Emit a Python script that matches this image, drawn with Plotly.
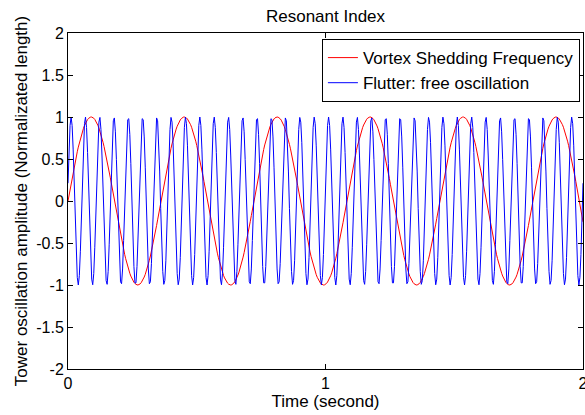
import numpy as np
import plotly.graph_objects as go

# Values
title_text = "Resonant Index"
x_label = "Time (second)"
y_label = "Tower oscillation amplitude (Normalizated length)"
series_names = ["Vortex Shedding Frequency", "Flutter: free oscillation"]
series_colors = ["#ff0000", "#0000ff"]

t_start, t_end, t_step = 0.0, 2.0, 0.004
vortex_freq_hz = 2.77      # red: ~5.5 cycles over 2 s
vortex_amp = 1.0
flutter_freq_hz = 18.0     # blue: ~36 cycles over 2 s
flutter_amp = 1.0
flutter_first_peak = 0.012

x_ticks = [0, 1, 2]
y_ticks = [-2, -1.5, -1, -0.5, 0, 0.5, 1, 1.5, 2]
y_tick_text = ["-2", "-1.5", "-1", "-0.5", "0", "0.5", "1", "1.5", "2"]

t = np.arange(t_start, t_end + t_step / 2, t_step)
vortex = vortex_amp * np.sin(2 * np.pi * vortex_freq_hz * t)
flutter = flutter_amp * np.cos(2 * np.pi * flutter_freq_hz * (t - flutter_first_peak))

font_family = "Liberation Sans, Arial, Helvetica, sans-serif"
label_font = dict(family=font_family, size=17, color="black")
tick_font = dict(family=font_family, size=16, color="black")

fig = go.Figure()
fig.add_trace(go.Scatter(x=t, y=vortex, mode="lines", name=series_names[0],
                         line=dict(color=series_colors[0], width=1)))
fig.add_trace(go.Scatter(x=t, y=flutter, mode="lines", name=series_names[1],
                         line=dict(color=series_colors[1], width=1)))

axis_common = dict(showline=True, linecolor="black", linewidth=1, mirror="allticks",
                   ticks="inside", ticklen=5, tickcolor="black", tickwidth=1,
                   showgrid=False, zeroline=False, ticklabeloverflow="allow",
                   automargin=False, tickfont=tick_font)

fig.update_layout(
    width=585, height=415,
    margin=dict(l=68, r=2, t=33, b=46, autoexpand=False),
    paper_bgcolor="white", plot_bgcolor="white",
    font=label_font,
    title=dict(text=title_text, x=(68 + 583) / 2 / 585, xanchor="center",
               yref="container", y=1 - 16 / 415, yanchor="middle", font=label_font,
               automargin=False),
    xaxis=dict(range=[0, 2], tickvals=x_ticks, ticktext=[str(v) for v in x_ticks],
               title=dict(text=x_label, standoff=0, font=label_font),
               **axis_common),
    yaxis=dict(range=[-2, 2], tickvals=y_ticks, ticktext=y_tick_text,
               title=dict(text=y_label, standoff=4, font=label_font),
               **axis_common),
    legend=dict(x=0.994, xanchor="right", y=0.982, yanchor="top",
                bgcolor="white", bordercolor="black", borderwidth=1,
                font=label_font, tracegroupgap=0, itemwidth=30),
    showlegend=True,
)

fig.write_html("out.html")
